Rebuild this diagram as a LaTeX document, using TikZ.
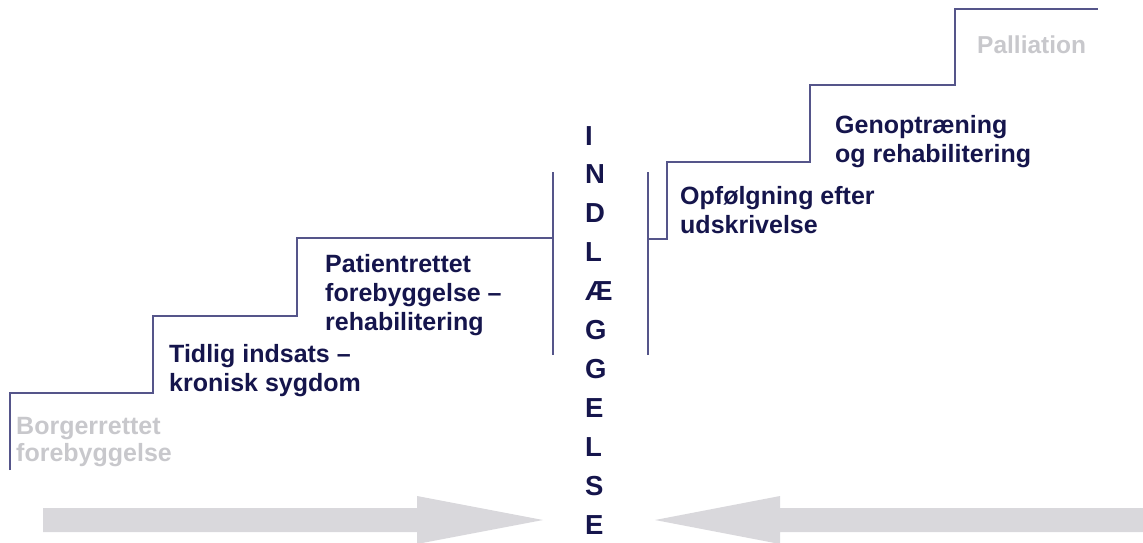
\documentclass[tikz,border=0pt]{standalone}
\usepackage{fontspec}
\setmainfont{Liberation Sans}
\definecolor{navy}{HTML}{15154C}
\definecolor{stair}{HTML}{55558A}
\definecolor{paletxt}{HTML}{C8C8CC}
\definecolor{arrowfill}{HTML}{D9D8DC}
\begin{document}
\begin{tikzpicture}[x=1pt,y=-1pt,
  lbl/.style={inner sep=0pt, anchor=base west, align=left, text=navy,
    font=\fontsize{25}{29}\selectfont\bfseries},
  palelbl/.style={lbl, text=paletxt},
  stairline/.style={draw=stair, line width=1.5pt},
  bigarrow/.style={fill=arrowfill, draw=none}]
\useasboundingbox (0,0) rectangle (1143,542);
% big arrows
\fill[bigarrow] (43,508) -- (417,508) -- (417,496) -- (543,520) -- (417,544) -- (417,532) -- (43,532) -- cycle;
\fill[bigarrow] (1143,508) -- (780,508) -- (780,496) -- (655,520) -- (780,544) -- (780,532) -- (1143,532) -- cycle;
% left staircase
\draw[stairline] (10,470) -- (10,393) -- (153,393) -- (153,316) -- (297,316) -- (297,238) -- (553,238);
\draw[stairline] (553,172) -- (553,355);
% right staircase
\draw[stairline] (648,172) -- (648,355);
\draw[stairline] (648,239) -- (667,239) -- (667,162) -- (810,162) -- (810,85) -- (955,85) -- (955,9) -- (1098,9);
% labels (anchor = baseline of last line)
\node[palelbl, font=\fontsize{25}{27}\selectfont\bfseries] (borger) at (16,461) {Borgerrettet\\forebyggelse};
\node[lbl] (tidlig) at (169,391) {Tidlig indsats --\\kronisk sygdom};
\node[lbl] (patient) at (325,330) {Patientrettet\\forebyggelse --\\rehabilitering};
\node[lbl] (opf) at (680,233) {Opfølgning efter\\udskrivelse};
\node[lbl] (genop) at (835,162) {Genoptræning\\og rehabilitering};
\node[palelbl, font=\fontsize{24.5}{29}\selectfont\bfseries] (pall) at (977,53) {Palliation};
\node[lbl, font=\fontsize{27.5}{38.9}\selectfont\bfseries] (indl) at (585,534) {I\\N\\D\\L\\Æ\\G\\G\\E\\L\\S\\E};
\end{tikzpicture}
\end{document}
